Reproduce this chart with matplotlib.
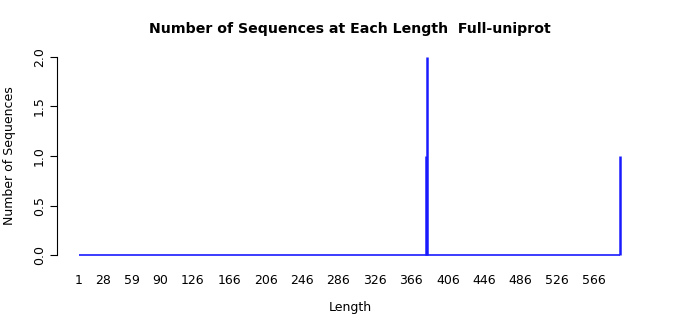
import matplotlib

matplotlib.use("Agg")
import matplotlib.pyplot as plt

# sequence lengths with non-zero counts
lengths = [382, 383, 595]
counts = [1, 2, 1]
len_min, len_max = 1, 595

x_ticks = [1, 28, 59, 90, 126, 166, 206, 246, 286, 326, 366, 406, 446, 486, 526, 566]
y_ticks = [0.0, 0.5, 1.0, 1.5, 2.0]

fig = plt.figure(figsize=(7, 3.15), dpi=100)
# axes box: left spine at x=57px, 2.0 at y=57px, 0.0 at y=255px
ax = fig.add_axes([57 / 700, 1 - 263 / 315, 583 / 700, 214 / 315])

ax.hlines(0, len_min, len_max, color="#1a1aff", linewidth=1.2)
ax.vlines(lengths, 0, counts, color="#1a1aff", linewidth=1.8)

ax.set_xlim(-23, 617)
ax.set_ylim(-0.08, 2.08)

for side in ("top", "right", "bottom"):
    ax.spines[side].set_visible(False)
ax.spines["left"].set_bounds(0, 2)
ax.spines["left"].set_linewidth(0.8)

ax.set_yticks(y_ticks)
ax.set_yticklabels([f"{v:.1f}" for v in y_ticks], rotation=90, va="center", fontsize=9)
ax.tick_params(axis="y", length=5, width=0.8, pad=3)

ax.set_xticks(x_ticks)
ax.set_xticklabels([str(v) for v in x_ticks], fontsize=9)
ax.tick_params(axis="x", length=0, pad=8)

ax.set_ylabel("Number of Sequences", fontsize=9, labelpad=12)
fig.text(350 / 700, 1 - 307 / 315, "Length", ha="center", va="center", fontsize=9)

fig.text(350 / 700, 1 - 29 / 315, "Number of Sequences at Each Length  Full-uniprot",
         ha="center", va="center", fontsize=10.2, fontweight="bold")

fig.savefig("out.png", dpi=100)
